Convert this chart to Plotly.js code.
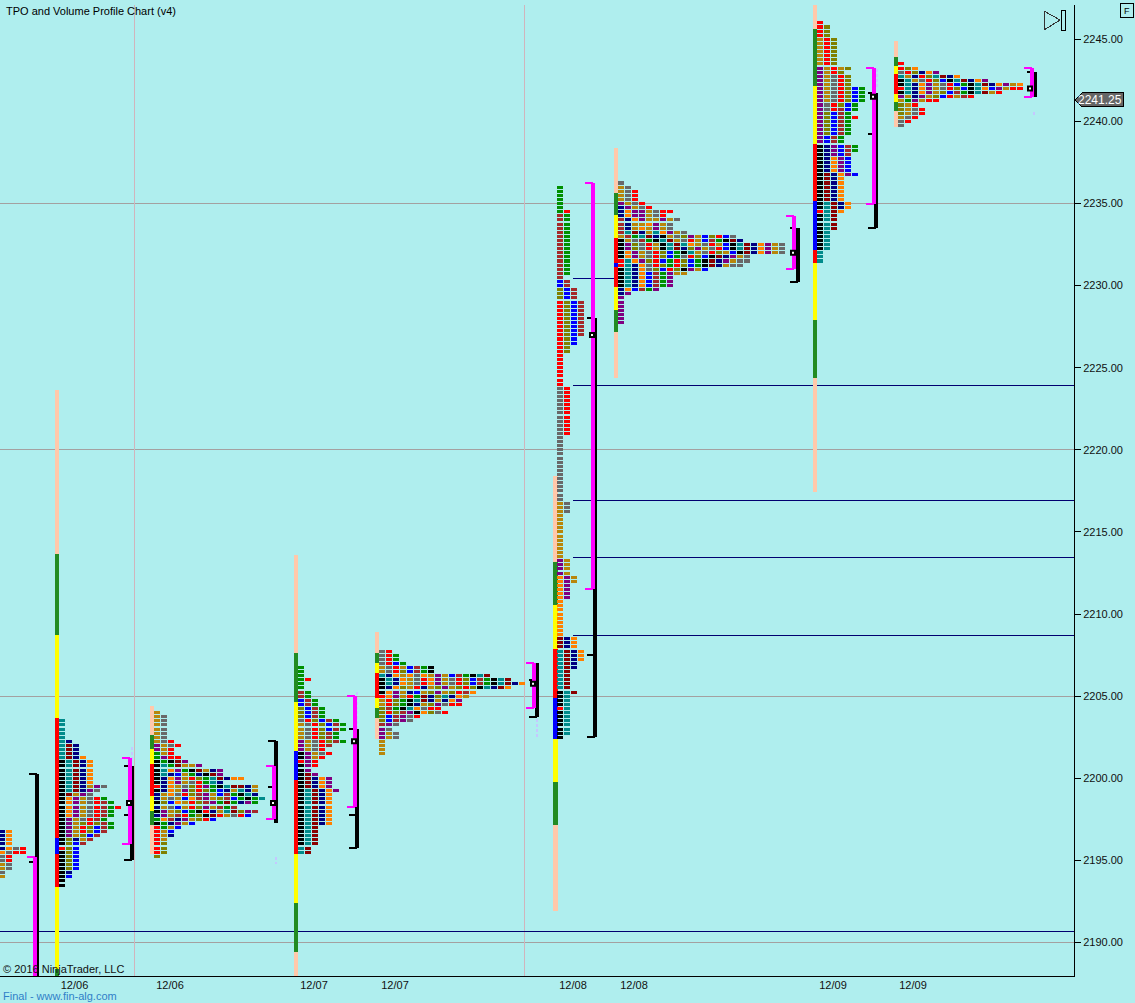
<!DOCTYPE html>
<html>
<head>
<meta charset="utf-8">
<script src="https://cdn.plot.ly/plotly-3.0.1.min.js"></script>
<style>
html,body{margin:0;padding:0;background:#AFEEEE;overflow:hidden}
.shapelayer path{shape-rendering:crispEdges}
.scatterlayer .js-line{shape-rendering:crispEdges}
</style>
</head>
<body>
<div id="chart" style="width:1135px;height:1003px"></div>
<script>
// ---------- price ladder and session labels ----------
const gridPrices = [2235, 2220, 2205, 2190];
const sessionBreaks = [134.6, 524.4];
const dateTicks = [74.5, 170, 314, 395, 573, 634, 833, 913];
const dateLabels = ['12/06','12/06','12/07','12/07','12/08','12/08','12/09','12/09'];
const lastPrice = 2241.25;
const fullLevels = [2190.64];
const openLevels = [2223.91, 2216.9, 2213.43, 2208.68];
const shortLevel = 2230.43;

// ---------- TPO profiles: one string per price row, top to bottom ----------
const p0Rows = ['no*4','noGr','oGrr','Gr*2','OG*2','G','O'];
const p1Rows = ['t*5','tn','tdn*3','tdno','ktdno*6','ktdnOpG','ktdnpG','kdOpG','kopOGrg','kopOGrBg','kopOGrBgr','kopOGrBg*2',
  'kpOGrBg','kpOlrlBg','kpOrlbBg','kpOrlbB','kpOlbB','klnOB','klbB','rlb','klb*5','kn','kb','k*2'];
const p2Rows = ['O','OG*6','OGr','pOGr','pOr','gOr','gprr','kgkdp','ktgdOOp','ktopgkdOnp','ktnbOgnkdp','knopOrlgtdnoo','knopOGrgtn',
  'rnoOGlrpgktddnO','knoOplrlgbnOtnO','nOoGrlBpObBgktn','nOGOboBpOlBbgkgt','klboOrlBpgdgnpg','nOGbOrlpOBgB','kpOlbgkrnOtdlpB',
  'npOBrglkdrOGrb','goBnpOlrb','kgnpOb','rgOb','rOb','rOn','rO','rl*3','l'];
const p3Rows = ['g*3','gr','g*2','Bg*2','bBg*2','lbBg*3','GrlbBg','OGrlbBg*2','OGrlBg*2','pOGrlBg','pOGrB','pOGr','kpOGr','kpOr','rpr','kpr','kp','kdp',
  'kdnop*3','ktdnop','ktdno*8','ktd*5','td*2'];
const p4Rows = ['Gr','Grg*2','Grbg','OGrObBgk','OGrlbBgk','tnoOoGoOpObBgktd','ktnoOGropOGrlbBgktd','ktnoOGropOGrlbBgktdno','knolOrnOlpOlrlktndo',
  'kopOnbOlpOlrBo','ropOrgdnltnoO','OrlgktdnOnop','OrlgknOlpGrr','lBgktoGrr','lrlBpkolGr','lbBpGr','lbBpG','BpG','pG','pOG*2','O*4'];
const p5Rows = ['g*6','gr','Bg*15','B','bB*2','lbB*3','rlbB*9','rlb*2','rl*2','r*8','Gr*12','G*16','OG*3','O*11','pO*4','opO*2','op*4','o*9',
  'dno*3','tdno*3','tdn*2','td*5','ktd','kt*3','rt','kt*6','k'];
const p6Rows = ['G','OG','OGr*3','pOGr','npOGr','noppOGrr','noppOGr','BnopOOpOG','BnOOopOG','BnOoOpOG','BtdnOtopOG','OBgtdnkOGlpOblrbG',
  'kOGBgktdOGrObBgkdn','kplGrOktdtoOGrObktdnopOG','kplGrOktdnlpOGrbktdnopOG','kopOGrlbgktOGrlObkdnopOG','kopOGrlbgGrlbkdnpOG','rtoplrbgrlbgkdnpOGG','rtnoGrlgrlbgkdnOGG',
  'ktnoGlbrlkpOb','ktnobBgpOO','ktnobBgp*3','nobBgp','np','p*7'];
const p7Rows = ['r','rl*3','Orl*7','pOrOl','pOrl','pOGrl*3','pOGrlbg*4','pGrlbg','pGrBbg','plbBg','plbBgr','plbBg*4','pbBg*2','knpbBg*2','knpbB','knopb*4','kdnopb',
  'kdno*6','ktdno*2','rtdo','ktd*4','kt*5','t*3'];
const p8Rows = ['r','rlo','Grlnop','tOnrltdno','ktOGrlbktdnop','ktnopOGrbgktdnopOo','rtnopOGrlbktobpOrr','ktnopOlbBgktdOr','pOnpOlbrOBr','OgpOrr','lOr','lOGr*2','OGr','Gr','G'];

const rowsByProfile = [p0Rows,p1Rows,p2Rows,p3Rows,p4Rows,p5Rows,p6Rows,p7Rows,p8Rows];
const profileTops   = [2196.75,2203.5,2204,2206.75,2207.75,2236,2236.25,2246,2243.5];
const profileStarts = [-1,59,154,298,379,557,618,817,898];

// ---------- session stripes: price edges top to bottom, colour code per band ----------
const stripeEdges = [
  [2223.64,2213.65,2208.72,2203.66,2196.35,2195.38,2193.37,2188.37,2187],
  [2204.41,2202.63,2201.77,2200.86,2198.91,2198,2197.15,2195.38],
  [2213.59,2207.62,2204.64,2201.65,2199.89,2195.38,2192.39,2189.41,2187],
  [2208.9,2207.62,2207.01,2206.4,2204.88,2204.27,2203.66,2202.38],
  [2218.4,2213.16,2210.55,2207.87,2204.9,2202.4,2199.76,2197.14,2191.91],
  [2238.38,2235.64,2234.3,2232.9,2231.37,2231.13,2229.91,2228.51,2227.17,2224.37],
  [2247.09,2245.63,2242.16,2238.62,2235.15,2232.17,2231.37,2227.9,2224.37,2217.42],
  [2244.9,2243.92,2243.37,2242.89,2241.67,2241.18,2240.63,2239.66]
];
const stripeBands = ['PFYRbRYF','PFYRYFP','PFYbRYFP','PFYRYFP','PFYRbYFP','PFYRbRYFP','PFYRbRYFP','PFYRYFP'];
const stripeStarts = [57,152,296,377,555.5,616,815,896];

// ---------- value-area brackets ----------
const blackX   = [37,132,276,357,537,595,798,876,1035];
const blackTop = [2200.25,2200.75,2202.25,2203,2207,2228,2233.5,2241.75,2243];
const blackBot = [2187,2195,2197.25,2195.75,2203.75,2202.5,2230.25,2233.5,2241.5];
const blackTicks = [[2194.9],[2200.75,2197.75],[2199.5],[2203,2197.75],[2206],[2228,2207.5],[2233.5,2232],[2241.75,2239.25],[2243,2242]];
const blackBottomCap = [false,true,false,true,true,true,true,true,false];
const blackTopCap = [true,false,true,false,false,false,false,false,false];
const magentaX   = [35,130,274,355,534,593,794,874,1032];
const magentaTop = [2195.2,2201.25,2200.75,2205,2207,2236.25,2234.25,2243.25,2243.25];
const magentaBot = [2187,2196,2197.5,2198.25,2204.25,2211.5,2231,2235,2241.5];
const pocX = [129,273,354,533,592,793,873,1030];
const pocPrice = [2198.5,2198.5,2202.25,2205.75,2227,2232,2241.5,2242];
const faintX = [132,276,276,357,357,537,877,1034];
const faintTop = [2201.9,2202.2,2195.2,2205.25,2204.1,2203.6,2243.2,2240.6];
const faintBot = [2201,2201.4,2194.8,2204.2,2203,2202.4,2242.1,2240.4];

// ---------- colours and geometry ----------
const palette = {k:'#000000',n:'#000080',b:'#0000FF',t:'#008B8B',g:'#009000',r:'#FF0000',d:'#8B0000',B:'#A52A2A',o:'#FF8000',O:'#B8860B',l:'#808000',p:'#800080',G:'#696969'};
const bandPalette = {P:'#FFC8AA',F:'#228B22',Y:'#FFFF00',R:'#FF0000',b:'#0000FF'};
const TICK = 0.25, COL = 7, BLOCK_W = 6, BLOCK_H = 0.185, STRIPE_W = 4.6;
const BG = '#AFEEEE';
const FONT = 'Liberation Sans, Arial, sans-serif';

// blocks
const by=[], bb=[], bx=[], bc=[];
rowsByProfile.forEach((rows,pi)=>{
  let row=0;
  rows.forEach(spec=>{
    const parts=spec.split('*');
    const n=parts.length>1?+parts[1]:1;
    for(let r=0;r<n;r++){
      for(let j=0;j<parts[0].length;j++){
        by.push(profileTops[pi]-row*TICK);
        bb.push(profileStarts[pi]+j*COL);
        bx.push(BLOCK_W);
        bc.push(palette[parts[0][j]]);
      }
      row++;
    }
  });
});
// stripes
const sx=[], sb=[], sy=[], sc=[];
stripeEdges.forEach((edges,i)=>{
  for(let k=0;k<edges.length-1;k++){
    sx.push(stripeStarts[i]); sb.push(edges[k+1]); sy.push(edges[k]-edges[k+1]);
    sc.push(bandPalette[stripeBands[i][k]]);
  }
});
// brackets
function seg(arrX,arrY,x0,y0,x1,y1){arrX.push(x0,x1,null);arrY.push(y0,y1,null);}
const bsX=[],bsY=[],bcX=[],bcY=[],msX=[],msY=[],mcX=[],mcY=[],fX=[],fY=[];
blackX.forEach((x,i)=>{
  seg(bsX,bsY,x,blackTop[i],x,blackBot[i]);
  blackTicks[i].forEach(t=>seg(bcX,bcY,x-8,t,x-2,t));
  if(blackBottomCap[i]) seg(bcX,bcY,x-8,blackBot[i],x,blackBot[i]);
  if(blackTopCap[i]) seg(bcX,bcY,x-8,blackTop[i],x,blackTop[i]);
});
magentaX.forEach((x,i)=>{
  seg(msX,msY,x,magentaTop[i],x,magentaBot[i]);
  seg(mcX,mcY,x-8,magentaTop[i],x,magentaTop[i]);
  seg(mcX,mcY,x-8,magentaBot[i],x,magentaBot[i]);
});
faintX.forEach((x,i)=>seg(fX,fY,x,faintTop[i],x,faintBot[i]));

function lineTrace(x,y,color,width,dash){
  return {type:'scatter',mode:'lines',x,y,line:{color,width,dash:dash||'solid'},hoverinfo:'skip',showlegend:false,connectgaps:false};
}
const traces=[
  {type:'bar',orientation:'v',x:sx,y:sy,base:sb,width:STRIPE_W,marker:{color:sc,line:{width:0}},hoverinfo:'skip',showlegend:false},
  {type:'bar',orientation:'h',y:by,x:bx,base:bb,width:BLOCK_H,marker:{color:bc,line:{width:0}},hoverinfo:'skip',showlegend:false},
  lineTrace(fX,fY,'#C4C8FF',1.5,'3px,2px'),
  lineTrace(bsX,bsY,'#000000',4),
  lineTrace(bcX,bcY,'#000000',2),
  lineTrace(msX,msY,'#FF00FF',4),
  lineTrace(mcX,mcY,'#FF00FF',2),
  {type:'scatter',mode:'markers',x:pocX,y:pocPrice,marker:{symbol:'square',size:4,color:'#FFFFFF',line:{color:'#000000',width:2}},hoverinfo:'skip',showlegend:false}
];

// shapes kept below the marks
const shapes=[];
gridPrices.forEach(p=>shapes.push({type:'line',layer:'below',xref:'paper',x0:0,x1:1,yref:'y',y0:p,y1:p,line:{color:'#A4A0A0',width:1}}));
sessionBreaks.forEach(x=>shapes.push({type:'line',layer:'below',xref:'x',x0:x,x1:x,yref:'paper',y0:0,y1:1,line:{color:'#D0B4BC',width:1}}));
fullLevels.forEach(p=>shapes.push({type:'line',layer:'below',xref:'paper',x0:0,x1:1,yref:'y',y0:p,y1:p,line:{color:'#000070',width:1}}));
openLevels.forEach(p=>shapes.push({type:'line',layer:'below',xref:'x',x0:573,x1:1074,yref:'y',y0:p,y1:p,line:{color:'#000070',width:1}}));
shapes.push({type:'line',layer:'below',xref:'x',x0:573,x1:617,yref:'y',y0:shortLevel,y1:shortLevel,line:{color:'#000080',width:1}});
// last-price tag, pixel-anchored on the price
shapes.push({type:'path',layer:'above',xref:'paper',xsizemode:'pixel',xanchor:1,yref:'y',ysizemode:'pixel',yanchor:lastPrice,
  path:'M1 1 L8 8 L49 8 L49 -6 L8 -6 Z',fillcolor:'#666666',line:{color:'#000000',width:1}});
// play/stop glyph, pixel-anchored on the top right corner
shapes.push({type:'path',layer:'above',xref:'paper',xsizemode:'pixel',xanchor:1,yref:'paper',ysizemode:'pixel',yanchor:1,
  path:'M-30 -6 L-14 -15 L-30 -25 Z',fillcolor:BG,line:{color:'#333333',width:1}});
shapes.push({type:'path',layer:'above',xref:'paper',xsizemode:'pixel',xanchor:1,yref:'paper',ysizemode:'pixel',yanchor:1,
  path:'M-13 -5 L-9 -5 L-9 -25 L-13 -25 Z',fillcolor:BG,line:{color:'#000000',width:1}});

const annotations=[
  {xref:'paper',yref:'paper',x:5/1074,y:1+1/971,xanchor:'left',yanchor:'top',text:'TPO and Volume Profile Chart (v4)',showarrow:false,font:{family:FONT,size:11,color:'#000'},borderpad:0},
  {xref:'paper',yref:'paper',x:2/1074,y:0,xanchor:'left',yanchor:'bottom',text:'© 2016 NinjaTrader, LLC',showarrow:false,font:{family:FONT,size:11,color:'#111'},borderpad:0},
  {xref:'paper',yref:'paper',x:2/1074,y:-13/971,xanchor:'left',yanchor:'top',text:'Final - www.fin-alg.com',showarrow:false,font:{family:FONT,size:11,color:'#2F7FC8'},borderpad:0},
  {xref:'paper',yref:'y',x:1+49/1074,y:lastPrice,xanchor:'right',yanchor:'middle',yshift:1,text:'2241.25',showarrow:false,font:{family:FONT,size:12,color:'#FFFFFF'},borderpad:0},
  {xref:'paper',yref:'paper',x:1+53/1074,y:1+2/971,xanchor:'center',yanchor:'top',text:'F',showarrow:false,font:{family:FONT,size:9,color:'#000'},bordercolor:'#000',borderwidth:1,borderpad:1,width:10,height:11}
];

const layout={
  width:1135,height:1003,autosize:false,
  margin:{l:0,r:61,t:5,b:27,pad:0},
  paper_bgcolor:BG,plot_bgcolor:BG,
  barmode:'overlay',bargap:0,showlegend:false,
  font:{family:FONT,size:11,color:'#000'},
  xaxis:{range:[0,1074],type:'linear',tickmode:'array',tickvals:dateTicks,ticktext:dateLabels,ticks:'',showgrid:false,zeroline:false,
    showline:true,linecolor:'#000',linewidth:1,tickfont:{family:FONT,size:11,color:'#111'},ticklabelstandoff:-1,fixedrange:true,mirror:false},
  yaxis:{range:[2187.96,2247.09],type:'linear',side:'right',tickmode:'linear',tick0:2190,dtick:5,tickformat:'.2f',ticks:'outside',ticklen:6,tickcolor:'#000',tickwidth:1,
    showgrid:false,zeroline:false,showline:true,linecolor:'#000',linewidth:1,tickfont:{family:FONT,size:11,color:'#111'},fixedrange:true},
  shapes,annotations
};
Plotly.newPlot('chart',traces,layout,{displayModeBar:false,staticPlot:true});
</script>
</body>
</html>
